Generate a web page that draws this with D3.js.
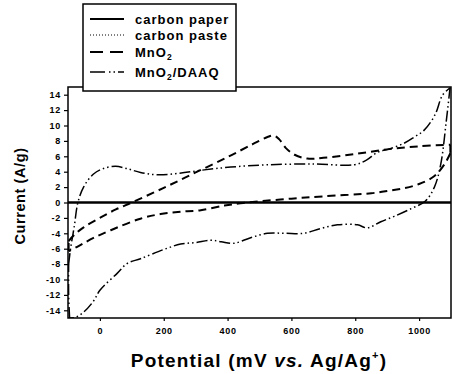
<!DOCTYPE html>
<html>
<head>
<meta charset="utf-8">
<script src="https://cdn.jsdelivr.net/npm/d3@7"></script>
<style>
  body { margin: 0; background: #fff; }
  text { font-family: Arial, "Liberation Sans", sans-serif; font-weight: bold; fill: #000; }
</style>
</head>
<body>
<script>
// CV curves: [potential (mV), current (A/g)]
var carbonPaper = [[-100, 0], [1100, 0]];
var carbonPaste = [[-100, 0], [1100, 0]];

var mno2Forward = [[-98, -5.0], [-80, -4.2], [-50, -3.2], [0, -2.0], [50, -0.9], [100, 0],
  [200, 1.9], [300, 3.9], [400, 5.9], [480, 7.6], [525, 8.5], [545, 8.7], [562, 8.2],
  [582, 7.1], [610, 6.2], [650, 5.7], [700, 5.8], [800, 6.3], [900, 6.9], [1000, 7.3], [1098, 7.5]];
var mno2Reverse = [[1098, 6.4], [1080, 5.0], [1047, 3.4], [1000, 2.4], [953, 1.85], [900, 1.5],
  [850, 1.2], [700, 0.8], [600, 0.5], [500, 0.15], [440, -0.1], [390, -0.4], [316, -1.0],
  [253, -1.2], [190, -1.5], [127, -2.1], [34, -3.6], [-20, -4.6], [-60, -5.5], [-92, -6.2], [-98, -6.3]];

var daaqForward = [[-98, -8.0], [-92, -6.0], [-80, -3.0], [-69, 0], [-50, 2.1], [-20, 3.7],
  [10, 4.4], [49, 4.7], [85, 4.4], [127, 3.9], [180, 3.6], [250, 3.8], [320, 4.2], [410, 4.6],
  [525, 4.9], [670, 5.0], [796, 4.9], [835, 5.5], [869, 6.5], [910, 7.0], [953, 7.7],
  [985, 8.5], [1016, 9.4], [1050, 11.4], [1073, 13.9], [1097, 14.9]];
var daaqReverse = [[1097, 14.9], [1085, 10.5], [1068, 5.0], [1048, 2.0], [1020, 0.2],
  [975, -0.8], [922, -1.8], [880, -2.5], [838, -3.3], [807, -2.9], [744, -2.9], [690, -3.4],
  [639, -4.0], [580, -4.0], [525, -4.0], [470, -4.6], [420, -5.3], [380, -5.1], [347, -4.9],
  [300, -5.2], [253, -5.4], [200, -6.1], [127, -7.3], [86, -7.9], [54, -9.2], [0, -11.4],
  [-20, -12.8], [-50, -14.2], [-75, -14.9], [-95, -15.0]];

var yTicks = [-14, -12, -10, -8, -6, -4, -2, 0, 2, 4, 6, 8, 10, 12, 14];
var xTicks = [0, 200, 400, 600, 800, 1000];

var svg = d3.select("body").append("svg")
    .attr("width", 453)
    .attr("height", 374);

var plotLeft = 68, plotRight = 451, plotTop = 87, plotBottom = 318;

var x = d3.scaleLinear().domain([-100, 1100]).range([plotLeft, plotRight]);
var y = d3.scaleLinear().domain([-15, 15]).range([plotBottom, plotTop]);

svg.append("clipPath").attr("id", "plot")
   .append("rect").attr("x", plotLeft).attr("y", plotTop)
   .attr("width", plotRight - plotLeft).attr("height", plotBottom - plotTop);

var line = d3.line()
    .x(function(d) { return x(d[0]); })
    .y(function(d) { return y(d[1]); })
    .curve(d3.curveCatmullRom.alpha(0.5));

var g = svg.append("g").attr("clip-path", "url(#plot)");

var dashed = "8,5", dashDotDot = "11,3,1.5,3,1.5,3";

g.append("path").attr("d", line(carbonPaper))
 .attr("fill", "none").attr("stroke", "#000").attr("stroke-width", 2.4);
g.append("path").attr("d", line(carbonPaste))
 .attr("fill", "none").attr("stroke", "#000").attr("stroke-width", 1).attr("stroke-dasharray", "1,2");

// MnO2 loop, closed at the vertex potentials
[mno2Forward, mno2Reverse, [mno2Forward[mno2Forward.length - 1], mno2Reverse[0]],
 [mno2Reverse[mno2Reverse.length - 1], mno2Forward[0]]].forEach(function(seg) {
  g.append("path").attr("d", line(seg))
   .attr("fill", "none").attr("stroke", "#000").attr("stroke-width", 2)
   .attr("stroke-dasharray", dashed);
});

[daaqForward, daaqReverse, [daaqReverse[daaqReverse.length - 1], [-98, -12], daaqForward[0]]].forEach(function(seg) {
  g.append("path").attr("d", line(seg))
   .attr("fill", "none").attr("stroke", "#000").attr("stroke-width", 1.5)
   .attr("stroke-dasharray", dashDotDot);
});

// frame
svg.append("rect").attr("x", plotLeft).attr("y", plotTop)
   .attr("width", plotRight - plotLeft).attr("height", plotBottom - plotTop)
   .attr("fill", "none").attr("stroke", "#000").attr("stroke-width", 1.5);

// axes
var yAxis = svg.append("g").attr("transform", "translate(" + plotLeft + ",0)")
    .call(d3.axisLeft(y).tickValues(yTicks).tickSize(4).tickPadding(3).tickFormat(d3.format("d")));
var xAxis = svg.append("g").attr("transform", "translate(0," + plotBottom + ")")
    .call(d3.axisBottom(x).tickValues(xTicks).tickSize(3).tickPadding(7).tickFormat(d3.format("d")));

[xAxis, yAxis].forEach(function(a) {
  a.select(".domain").remove();
  a.selectAll("line").attr("stroke", "#000").attr("stroke-width", 1.2);
  a.selectAll("text").attr("font-size", 9).attr("letter-spacing", 0.7)
   .attr("font-family", "Arial, 'Liberation Sans', sans-serif").attr("font-weight", "bold");
});
yAxis.selectAll("text").text(function(d) { return d < 0 ? "-" + Math.abs(d) : d; });

// axis titles
svg.append("text")
   .attr("transform", "translate(25,196) rotate(-90)")
   .attr("text-anchor", "middle")
   .attr("font-size", 14.5)
   .attr("letter-spacing", 0.6)
   .text("Current (A/g)");

var xt = svg.append("text")
   .attr("x", 259).attr("y", 367)
   .attr("text-anchor", "middle")
   .attr("font-size", 19)
   .attr("letter-spacing", 1.2);
xt.append("tspan").text("Potential (mV ");
xt.append("tspan").attr("font-style", "italic").text("vs.");
xt.append("tspan").text(" Ag/Ag");
xt.append("tspan").attr("font-size", 11).attr("dy", -8).text("+");
xt.append("tspan").attr("dy", 8).text(")");

// legend
var legend = svg.append("g");
legend.append("rect").attr("x", 83).attr("y", 4).attr("width", 153).attr("height", 87)
      .attr("fill", "#fff").attr("stroke", "#000").attr("stroke-width", 1.5);

var legendNames = ["carbon paper", "carbon paste", "MnO2", "MnO2/DAAQ"];
var legendY = [19, 35, 52, 72];
var legendDash = [null, "1,2", "13,7", "15,4,1.5,3,1.5,3"];
var legendWidth = [1.8, 1, 2, 1.5];

legendNames.forEach(function(name, i) {
  legend.append("line").attr("x1", 90).attr("x2", 124)
        .attr("y1", legendY[i]).attr("y2", legendY[i])
        .attr("stroke", "#000").attr("stroke-width", legendWidth[i])
        .attr("stroke-dasharray", legendDash[i]);
  var t = legend.append("text").attr("x", 135).attr("y", legendY[i] + 4.5)
        .attr("font-size", 13).attr("letter-spacing", 1);
  if (name.indexOf("MnO2") === 0) {
    t.append("tspan").text("MnO");
    t.append("tspan").attr("font-size", 8.5).attr("dy", 3).text("2");
    t.append("tspan").attr("dy", -3).text(name.slice(4));
  } else {
    t.text(name);
  }
});
</script>
</body>
</html>
